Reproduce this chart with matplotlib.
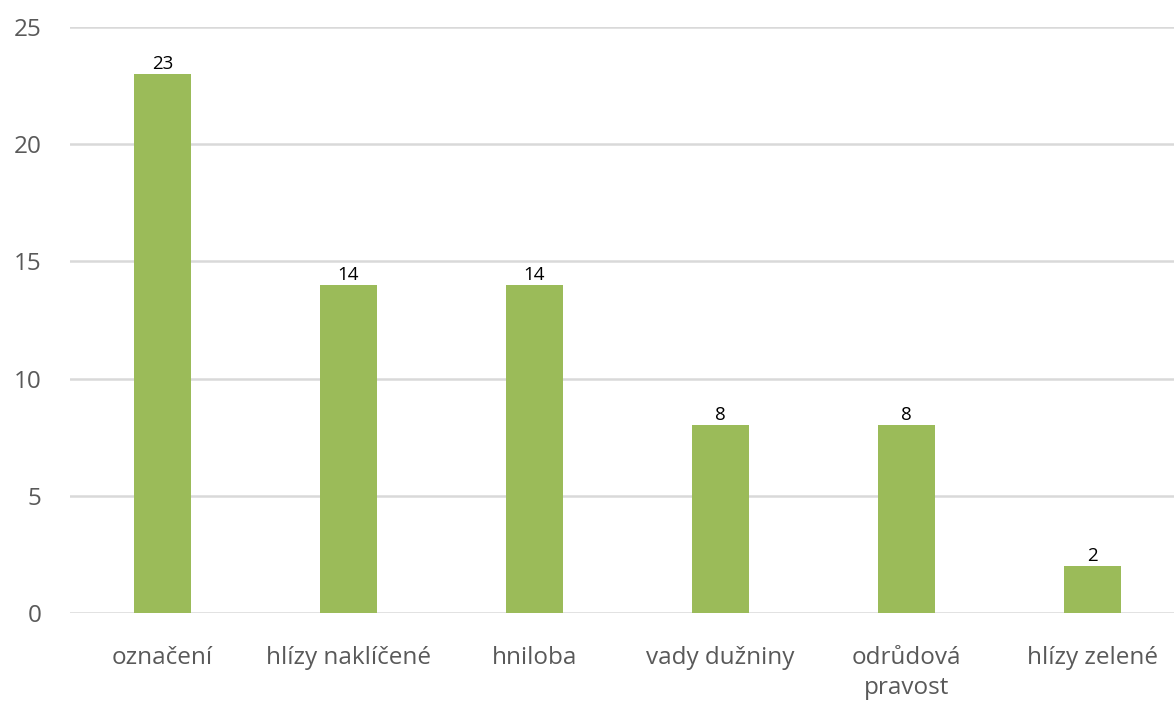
import matplotlib
matplotlib.use("Agg")
import matplotlib.pyplot as plt
import numpy as np

# data
categories = ["označení", "hlízy naklíčené", "hniloba", "vady dužniny",
              "odrůdová\npravost", "hlízy zelené"]
counts = [23, 14, 14, 8, 8, 2]
yticks = [0, 5, 10, 15, 20, 25]

plt.rcParams["font.family"] = ["Open Sans", "DejaVu Sans"]

fig = plt.figure(figsize=(11.74, 7.04), dpi=100)
ax = fig.add_axes([0.0592, 0.1293, 0.9506, 0.8324])

x = np.arange(len(categories))
bars = ax.bar(x, counts, width=0.31, color="#9BBB59", zorder=3)

for b, v in zip(bars, counts):
    ax.text(b.get_x() + b.get_width() / 2, v + 0.05, str(v),
            ha="center", va="bottom", fontsize=13.5, color="black")

ax.set_xlim(-0.5, len(categories) - 0.5)
ax.set_ylim(0, 25)
ax.set_yticks(yticks)
ax.set_xticks(x)
ax.set_xticklabels(categories, fontsize=17.5, color="#595959", linespacing=1.3,
                   va="top")
ax.tick_params(axis="y", labelsize=17.5, labelcolor="#595959", length=0, pad=20)
ax.tick_params(axis="x", length=0, pad=24)

ax.grid(axis="y", color="#D9D9D9", linewidth=1.8, zorder=0)
for s in ax.spines.values():
    s.set_visible(False)

fig.savefig("out.png", dpi=100)
